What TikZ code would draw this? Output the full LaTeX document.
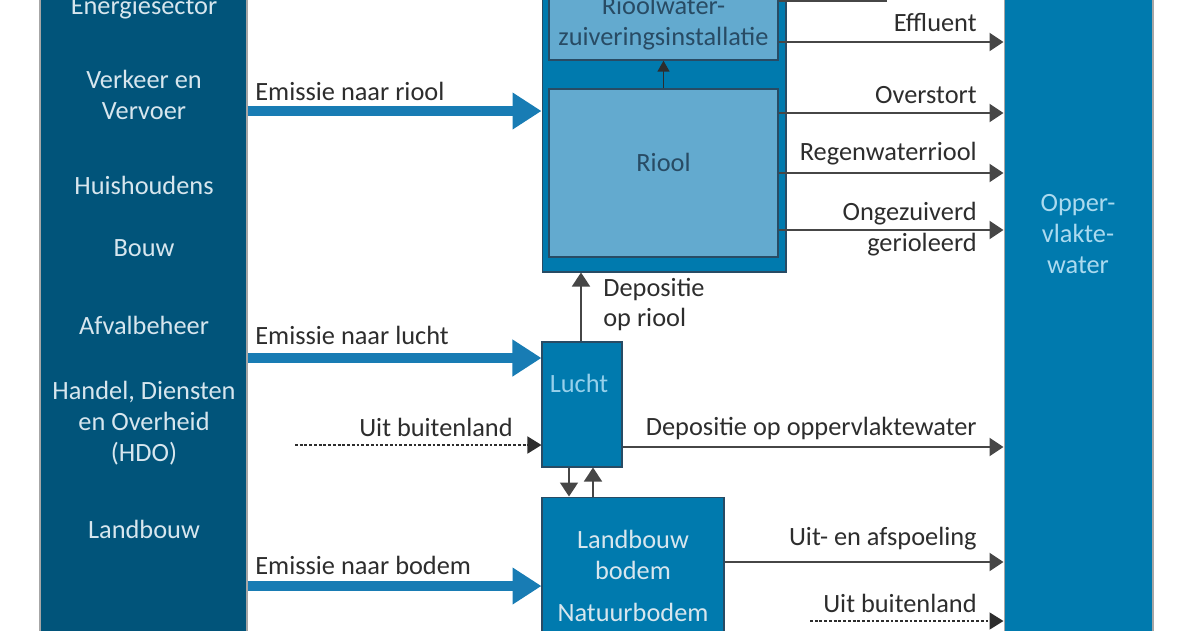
\documentclass[tikz,border=0pt]{standalone}
\usepackage{fontspec}
\setmainfont{Carlito}
\usetikzlibrary{positioning,arrows.meta}
\definecolor{sectorblue}{RGB}{1,84,122}
\definecolor{waterblue}{RGB}{0,122,174}
\definecolor{innerblue}{RGB}{99,170,207}
\definecolor{flowblue}{RGB}{24,124,180}
\definecolor{edgeblue}{RGB}{40,75,100}
\definecolor{linegray}{RGB}{70,70,70}
\definecolor{textgray}{RGB}{45,45,45}
\definecolor{pale}{RGB}{215,230,238}
\definecolor{airtext}{RGB}{150,208,235}
\begin{document}
\begin{tikzpicture}
    [
    x=0.02cm,y=-0.02cm,
    txt/.style={inner sep=0pt,align=center,font=\fontsize{15}{17.6}\selectfont},
    label/.style={txt,text=textgray},
    panel/.style={rectangle,inner sep=0pt,draw=gray!70,line width=0.6pt},
    compartment/.style={rectangle,inner sep=0pt,draw=edgeblue,line width=0.6pt,fill=waterblue},
    inner/.style={rectangle,inner sep=0pt,draw=edgeblue,line width=0.8pt,fill=innerblue},
    flow/.style={draw=flowblue,line width=5.6pt,-{Triangle[length=0.58cm,width=0.7cm]}},
    flux/.style={draw=linegray,line width=1.3pt,-{Triangle[length=0.28cm,width=0.36cm]}},
    small/.style={draw=textgray,line width=0.9pt,-{Triangle[length=0.22cm,width=0.24cm]}},
    foreign/.style={draw=textgray,line width=0.9pt,dash pattern=on 1.6pt off 1.1pt,-{Triangle[length=0.28cm,width=0.34cm]}}
    ]
    \useasboundingbox (0,0) rectangle (1200,630);
    \clip (0,0) rectangle (1200,630);

    \node (sectors) at (143.5,315) [panel,fill=sectorblue,minimum width=4.14cm,minimum height=13.4cm] {};
    \node (water) at (1078.5,315) [panel,fill=waterblue,minimum width=2.98cm,minimum height=13.4cm] {};
    \node (sewer) at (664,126) [compartment,minimum width=4.88cm,minimum height=5.84cm] {};
    \node (rwzi) at (663.5,20) [inner,minimum width=4.58cm,minimum height=1.6cm] {};
    \node (riool) at (663.5,173) [inner,minimum width=4.58cm,minimum height=3.36cm] {};
    \node (lucht) at (582,404.5) [compartment,minimum width=1.6cm,minimum height=2.5cm] {};
    \node (bodem) at (633,578.5) [compartment,minimum width=3.64cm,minimum height=3.26cm] {};

    % sectoren
    \node (energie) at (144,8) [txt,text=pale] {Energiesector};
    \node (verkeer) at (144,95) [txt,text=pale] {Verkeer en\\Vervoer};
    \node (huis) at (144,185) [txt,text=pale] {Huishoudens};
    \node (bouw) at (144,248) [txt,text=pale] {Bouw};
    \node (afval) at (144,325) [txt,text=pale] {Afvalbeheer};
    \node (hdo) at (144,423.5) [txt,text=pale] {Handel, Diensten\\en Overheid\\(HDO)};
    \node (landbouw) at (144,529) [txt,text=pale] {Landbouw};

    % compartimenten
    \node (rwzitxt) at (663.5,23.5) [txt,text=edgeblue] {Rioolwater-\\zuiveringsinstallatie};
    \node (riooltxt) at (663.5,162) [txt,text=edgeblue] {Riool};
    \node (luchttxt) at (579,383) [txt,text=airtext] {Lucht};
    \node (bodemtxt) at (633,554.5) [txt,text=pale] {Landbouw\\bodem};
    \node (natuurtxt) at (633,612) [txt,text=pale] {Natuurbodem};
    \node (watertxt) at (1078,234) [txt,text=airtext!80!white] {Opper-\\vlakte-\\water};

    % emissies
    \draw [flow] (sectors.east |- 0,111) -- (sewer.west |- 0,111);
    \draw [flow] (sectors.east |- 0,358) -- (lucht.west |- 0,358);
    \draw [flow] (sectors.east |- 0,586) -- (bodem.west |- 0,586);
    \node (emriool) at (255,91) [label,anchor=west] {Emissie naar riool};
    \node (emlucht) at (255,335) [label,anchor=west] {Emissie naar lucht};
    \node (embodem) at (255,565) [label,anchor=west] {Emissie naar bodem};

    % buitenland
    \coordinate (abroadair) at (295,445);
    \coordinate (abroadwater) at (810,621);
    \draw [foreign] (abroadair) -- (lucht.west |- abroadair);
    \draw [foreign] (abroadwater) -- (water.west |- abroadwater);
    \node (uitair) at (513,427) [label,anchor=east] {Uit buitenland};
    \node (uitwater) at (977,603) [label,anchor=east] {Uit buitenland};

    % naar oppervlaktewater
    \draw [flux] (rwzi.east |- 0,42) -- (water.west |- 0,42);
    \draw [flux] (riool.east |- 0,113) -- (water.west |- 0,113);
    \draw [flux] (riool.east |- 0,173) -- (water.west |- 0,173);
    \draw [flux] (riool.east |- 0,230) -- (water.west |- 0,230);
    \draw [flux] (lucht.east |- 0,447) -- (water.west |- 0,447);
    \draw [flux] (bodem.east |- 0,562) -- (water.west |- 0,562);
    \node (effluent) at (977,23) [label,anchor=east] {Effluent};
    \node (overstort) at (977,95) [label,anchor=east] {Overstort};
    \node (regen) at (977,154) [label,anchor=east] {Regenwaterriool};
    \node (ongez) at (977,229.5) [label,anchor=east,align=right] {Ongezuiverd\\gerioleerd};
    \node (deplw) at (977,428) [label,anchor=east] {Depositie op oppervlaktewater};
    \node (afspoel) at (977,539) [label,anchor=east] {Uit- en afspoeling};

    % tussen compartimenten
    \draw [small] (riool.north) -- (rwzi.south);
    \draw [flux,line width=1pt] (lucht.north -| 581,0) -- (sewer.south -| 581,0);
    \draw [flux,line width=1pt] (lucht.south -| 569,0) -- (bodem.north -| 569,0);
    \draw [flux,line width=1pt] (bodem.north -| 593,0) -- (lucht.south -| 593,0);
    \node (depriool) at (603,304.5) [label,anchor=west,align=left] {Depositie\\op riool};

    \coordinate (topcut) at (887,1);
    \draw [draw=linegray,line width=1.3pt] (rwzi.east |- topcut) -- (topcut);
  \end{tikzpicture}
\end{document}
